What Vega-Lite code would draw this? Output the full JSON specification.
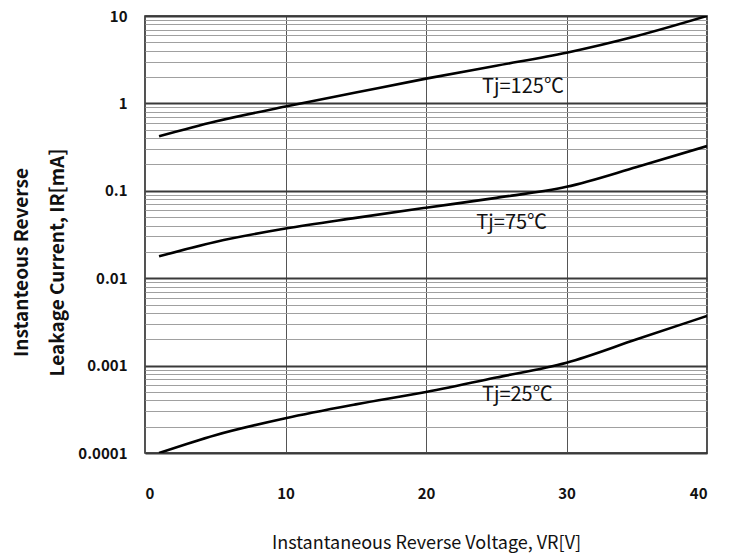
{
  "$schema": "https://vega.github.io/schema/vega-lite/v6.json",
  "autosize": "none",
  "width": 562,
  "height": 437,
  "padding": {"left": 145, "top": 16, "right": 31, "bottom": 105},
  "background": "white",
  "config": {
    "font": "Noto Sans CJK KR",
    "view": {"stroke": "#1a1a1a", "strokeWidth": 1.5}
  },
  "layer": [
    {
      "data": {
        "values": [
          {"tj": "125", "v": 1, "ir": 0.42},
          {"tj": "125", "v": 5, "ir": 0.62},
          {"tj": "125", "v": 10, "ir": 0.92},
          {"tj": "125", "v": 15, "ir": 1.33},
          {"tj": "125", "v": 20, "ir": 1.92},
          {"tj": "125", "v": 25, "ir": 2.7},
          {"tj": "125", "v": 30, "ir": 3.8},
          {"tj": "125", "v": 35, "ir": 5.9},
          {"tj": "125", "v": 40, "ir": 10},
          {"tj": "75", "v": 1, "ir": 0.0178},
          {"tj": "75", "v": 5, "ir": 0.026},
          {"tj": "75", "v": 10, "ir": 0.037},
          {"tj": "75", "v": 15, "ir": 0.049},
          {"tj": "75", "v": 20, "ir": 0.064},
          {"tj": "75", "v": 25, "ir": 0.083},
          {"tj": "75", "v": 30, "ir": 0.111},
          {"tj": "75", "v": 35, "ir": 0.187},
          {"tj": "75", "v": 40, "ir": 0.325},
          {"tj": "25", "v": 1, "ir": 0.0001},
          {"tj": "25", "v": 5, "ir": 0.00016},
          {"tj": "25", "v": 10, "ir": 0.00025},
          {"tj": "25", "v": 15, "ir": 0.00036},
          {"tj": "25", "v": 20, "ir": 0.0005},
          {"tj": "25", "v": 25, "ir": 0.00073},
          {"tj": "25", "v": 30, "ir": 0.00108},
          {"tj": "25", "v": 35, "ir": 0.002},
          {"tj": "25", "v": 40, "ir": 0.0037}
        ]
      },
      "mark": {"type": "line", "color": "black", "strokeWidth": 2.6, "interpolate": "monotone", "clip": true},
      "encoding": {
        "x": {
          "field": "v", "type": "quantitative",
          "scale": {"domain": [0, 40], "nice": false},
          "axis": {
            "values": [0, 10, 20, 30, 40],
            "grid": true, "gridColor": "#555555", "gridWidth": 1,
            "domain": false, "ticks": false, "tickSize": 0,
            "labelFontWeight": "bold", "labelFontSize": 15, "labelColor": "#111",
            "labelPadding": 33,
            "title": "Instantaneous Reverse Voltage, VR[V]",
            "titleFontWeight": "normal", "titleFontSize": 18, "titleColor": "#111",
            "titleBaseline": "middle", "titleY": 90
          }
        },
        "y": {
          "field": "ir", "type": "quantitative",
          "scale": {"type": "log", "domain": [0.0001, 10], "nice": false},
          "axis": {
            "values": [0.0001, 0.0002, 0.0003, 0.0004, 0.0005, 0.0006, 0.0007, 0.0008, 0.0009,
                       0.001, 0.002, 0.003, 0.004, 0.005, 0.006, 0.007, 0.008, 0.009,
                       0.01, 0.02, 0.03, 0.04, 0.05, 0.06, 0.07, 0.08, 0.09,
                       0.1, 0.2, 0.3, 0.4, 0.5, 0.6, 0.7, 0.8, 0.9,
                       1, 2, 3, 4, 5, 6, 7, 8, 9, 10],
            "labelExpr": "datum.value == 10 ? '10' : datum.value == 1 ? '1' : datum.value == 0.1 ? '0.1' : datum.value == 0.01 ? '0.01' : datum.value == 0.001 ? '0.001' : datum.value == 0.0001 ? '0.0001' : ''",
            "labelOverlap": false,
            "grid": true,
            "gridColor": {"condition": {"test": "indexof([0.0001, 0.001, 0.01, 0.1, 1, 10], datum.value) >= 0", "value": "#3a3a3a"}, "value": "#a0a0a0"},
            "gridWidth": {"condition": {"test": "indexof([0.0001, 0.001, 0.01, 0.1, 1, 10], datum.value) >= 0", "value": 2}, "value": 1},
            "domain": false, "ticks": false, "tickSize": 0,
            "labelFontWeight": "bold", "labelFontSize": 15, "labelColor": "#111",
            "labelPadding": 18,
            "title": ["Instanteous Reverse", "Leakage Current, IR[mA]"],
            "titleFontWeight": "bold", "titleFontSize": 19, "titleColor": "#111",
            "titleLineHeight": 36,
            "titleAngle": -90, "titleAlign": "center", "titleBaseline": "bottom",
            "titleX": -114, "titleY": 246
          }
        },
        "detail": {"field": "tj", "type": "nominal"}
      }
    },
    {
      "data": {
        "values": [
          {"label": "Tj=125℃", "v": 26.9, "ir": 1.56},
          {"label": "Tj=75℃", "v": 26.1, "ir": 0.0433},
          {"label": "Tj=25℃", "v": 26.5, "ir": 0.00046}
        ]
      },
      "mark": {"type": "text", "fontSize": 20, "color": "#111", "align": "center", "baseline": "middle"},
      "encoding": {
        "x": {"field": "v", "type": "quantitative"},
        "y": {"field": "ir", "type": "quantitative"},
        "text": {"field": "label", "type": "nominal"}
      }
    }
  ]
}
